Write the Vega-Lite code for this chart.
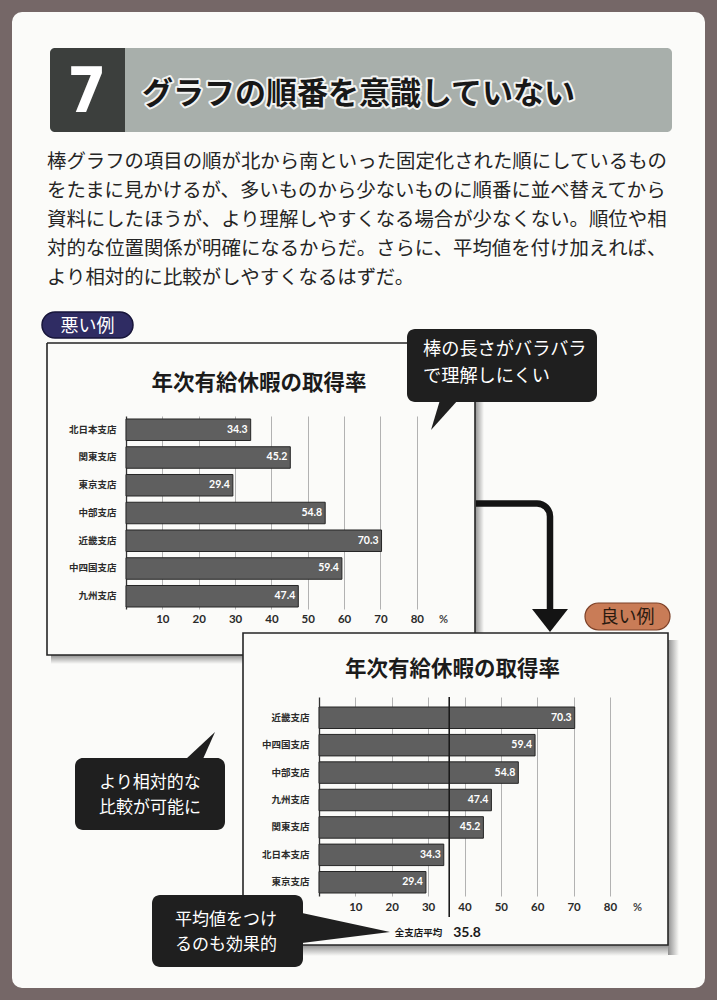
{
  "$schema": "https://vega.github.io/schema/vega-lite/v6.json",
  "width": 717,
  "height": 1000,
  "autosize": {"type": "none"},
  "padding": 0,
  "background": "#756767",
  "config": {
    "view": {"fill": "#fbfbf9", "stroke": "#756767", "strokeWidth": 24, "cornerRadius": 22},
    "font": "Noto Sans CJK JP",
    "text": {"font": "Noto Sans CJK JP"}
  },
  "datasets": {
    "branches": [
      {"branch": "北日本支店", "rate": 34.3},
      {"branch": "関東支店", "rate": 45.2},
      {"branch": "東京支店", "rate": 29.4},
      {"branch": "中部支店", "rate": 54.8},
      {"branch": "近畿支店", "rate": 70.3},
      {"branch": "中四国支店", "rate": 59.4},
      {"branch": "九州支店", "rate": 47.4}
    ],
    "average": [{"label": "全支店平均", "value": 35.8}]
  },
  "resolve": {"scale": {"x": "independent", "y": "independent"}, "axis": {"x": "independent", "y": "independent"}},
  "layer": [
    {"data": {"values": [{}]}, "mark": {"type": "rect", "fill": "#a8afab", "cornerRadius": 5},
     "encoding": {"x": {"value": 50}, "x2": {"value": 672}, "y": {"value": 48}, "y2": {"value": 132}}},
    {"data": {"values": [{}]}, "mark": {"type": "rect", "fill": "#3c3f3d", "cornerRadiusTopLeft": 5, "cornerRadiusBottomLeft": 5},
     "encoding": {"x": {"value": 50}, "x2": {"value": 125}, "y": {"value": 48}, "y2": {"value": 132}}},
    {"data": {"values": [{"num": "7"}]}, "mark": {"type": "text", "font": "Liberation Sans Narrow, DejaVu Sans Condensed, Roboto", "fontWeight": "bold", "fontSize": 62, "fill": "#ffffff", "align": "center", "baseline": "alphabetic"},
     "encoding": {"x": {"value": 87}, "y": {"value": 112}, "text": {"field": "num"}}},
    {"data": {"values": [{"title": "グラフの順番を意識していない"}]}, "mark": {"type": "text", "fontSize": 31, "fontWeight": "bold", "fill": "#ffffff", "stroke": "#ffffff", "strokeWidth": 4, "strokeJoin": "round", "align": "left", "baseline": "alphabetic", "opacity": 0.85},
     "encoding": {"x": {"value": 142}, "y": {"value": 104}, "text": {"field": "title"}}},
    {"data": {"values": [{"title": "グラフの順番を意識していない"}]}, "mark": {"type": "text", "fontSize": 31, "fontWeight": "bold", "fill": "#181818", "align": "left", "baseline": "alphabetic"},
     "encoding": {"x": {"value": 142}, "y": {"value": 104}, "text": {"field": "title"}}},
    {"data": {"values": [{"body": "棒グラフの項目の順が北から南といった固定化された順にしているもの\nをたまに見かけるが、多いものから少ないものに順番に並べ替えてから\n資料にしたほうが、より理解しやすくなる場合が少なくない。順位や相\n対的な位置関係が明確になるからだ。さらに、平均値を付け加えれば、\nより相対的に比較がしやすくなるはずだ。"}]},
     "mark": {"type": "text", "lineBreak": "\n", "lineHeight": 29, "fontSize": 19.4, "fill": "#252525", "align": "left", "baseline": "alphabetic"},
     "encoding": {"x": {"value": 47}, "y": {"value": 168}, "text": {"field": "body"}}},
    {"data": {"values": [{}]}, "mark": {"type": "rect", "fill": "#2f2c63", "stroke": "#17153a", "strokeWidth": 1.5, "cornerRadius": 13},
     "encoding": {"x": {"value": 42}, "x2": {"value": 133}, "y": {"value": 312}, "y2": {"value": 338}}},
    {"data": {"values": [{"tag": "悪い例"}]}, "mark": {"type": "text", "fontSize": 18, "fill": "#ffffff", "align": "center", "baseline": "alphabetic"},
     "encoding": {"x": {"value": 87.5}, "y": {"value": 332}, "text": {"field": "tag"}}},
    {"data": {"values": [{}]}, "mark": {"type": "rect", "fill": {"gradient": "linear", "x1": 0, "y1": 0, "x2": 1, "y2": 0, "stops": [{"offset": 0, "color": "#8f8f8f"}, {"offset": 1, "color": "#fbfbf9"}]}},
     "encoding": {"x": {"value": 475}, "x2": {"value": 484}, "y": {"value": 347}, "y2": {"value": 633}}},
    {"data": {"values": [{}]}, "mark": {"type": "rect", "fill": {"gradient": "linear", "x1": 0, "y1": 0, "x2": 0, "y2": 1, "stops": [{"offset": 0, "color": "#8f8f8f"}, {"offset": 1, "color": "#fbfbf9"}]}},
     "encoding": {"x": {"value": 51}, "x2": {"value": 243}, "y": {"value": 655}, "y2": {"value": 664}}},
    {"data": {"values": [{}]}, "mark": {"type": "point", "shape": "M0 0 H428 V290 M0 0 V312 H196", "size": 4, "filled": false, "fill": "transparent", "stroke": "#262626", "strokeWidth": 1.6, "opacity": 1},
     "encoding": {"x": {"value": 47}, "y": {"value": 343}}},
    {"data": {"values": [{"title": "年次有給休暇の取得率"}]}, "mark": {"type": "text", "fontSize": 21.5, "fontWeight": "bold", "fill": "#1b1b1b", "align": "center", "baseline": "alphabetic"},
     "encoding": {"x": {"value": 259}, "y": {"value": 390}, "text": {"field": "title"}}},
    {
      "data": {"name": "branches"},
      "layer": [
        {"mark": {"type": "bar", "fill": "#5f5f5f", "stroke": "#262626", "strokeWidth": 1},
         "encoding": {
           "y": {"field": "branch", "type": "nominal", "sort": null,
                 "scale": {"range": [416, 609], "paddingInner": 0.225, "paddingOuter": 0.09, "align": 0.6},
                 "axis": {"orient": "left", "offset": -126, "title": null, "domain": true, "domainColor": "#333333", "domainWidth": 1.3, "ticks": false, "tickSize": 0, "labelPadding": 10, "labelFont": "Noto Sans CJK JP", "labelFontWeight": "bold", "labelFontSize": 9.5, "labelColor": "#2b2b2b", "grid": false, "zindex": 0}},
           "x": {"field": "rate", "type": "quantitative",
                 "scale": {"domain": [0, 80], "range": [126, 416.8]},
                 "axis": {"orient": "top", "offset": -609, "values": [10, 20, 30, 40, 50, 60, 70, 80], "grid": true, "gridColor": "#a0a0a0", "gridWidth": 0.8, "domain": false, "ticks": false, "tickSize": 0, "labelPadding": -10, "labelBaseline": "middle", "labelFlush": false, "labelOverlap": false, "labelFont": "Lato", "labelFontWeight": "bold", "labelFontSize": 11.5, "labelColor": "#2a2a2a", "title": "%", "titleX": 443, "titleY": 10, "titleAngle": 0, "titleAlign": "center", "titleBaseline": "middle", "titleFont": "Lato", "titleFontSize": 11, "titleFontWeight": "bold", "titleColor": "#444444", "zindex": 0}}
         }},
        {"mark": {"type": "text", "align": "right", "dx": -3, "baseline": "middle", "fill": "#ffffff", "fontWeight": "bold", "fontSize": 10.5, "font": "Lato"},
         "encoding": {
           "y": {"field": "branch", "type": "nominal", "sort": null},
           "x": {"field": "rate", "type": "quantitative"},
           "text": {"field": "rate", "type": "quantitative", "format": ".1f"}
         }}
      ]
    },
    {"data": {"values": [{}]}, "mark": {"type": "rect", "fill": "#1f1f1f", "cornerRadius": 8},
     "encoding": {"x": {"value": 407}, "x2": {"value": 597}, "y": {"value": 329}, "y2": {"value": 402}}},
    {"data": {"values": [{}]}, "mark": {"type": "point", "shape": "M0 0 L18 0 L-9 30 Z", "size": 4, "filled": true, "fill": "#1f1f1f", "strokeWidth": 0, "opacity": 1},
     "encoding": {"x": {"value": 440}, "y": {"value": 400}}},
    {"data": {"values": [{"note": "棒の長さがバラバラ\nで理解しにくい"}]}, "mark": {"type": "text", "lineBreak": "\n", "lineHeight": 27, "fontSize": 18.2, "fill": "#ffffff", "align": "left", "baseline": "alphabetic"},
     "encoding": {"x": {"value": 423}, "y": {"value": 355}, "text": {"field": "note"}}},
    {"data": {"values": [{}]}, "mark": {"type": "point", "shape": "M0 0 H61 A13 13 0 0 1 74 13 V107", "size": 4, "filled": false, "fill": "transparent", "stroke": "#141414", "strokeWidth": 6.5, "opacity": 1},
     "encoding": {"x": {"value": 476}, "y": {"value": 503.5}}},
    {"data": {"values": [{}]}, "mark": {"type": "point", "shape": "M-18 -11 L18 -11 L0 12 Z", "size": 4, "filled": true, "fill": "#141414", "strokeWidth": 0, "opacity": 1},
     "encoding": {"x": {"value": 550}, "y": {"value": 620}}},
    {"data": {"values": [{}]}, "mark": {"type": "rect", "fill": {"gradient": "linear", "x1": 0, "y1": 0, "x2": 1, "y2": 0, "stops": [{"offset": 0, "color": "#8f8f8f"}, {"offset": 1, "color": "#fbfbf9"}]}},
     "encoding": {"x": {"value": 668}, "x2": {"value": 679}, "y": {"value": 640}, "y2": {"value": 955}}},
    {"data": {"values": [{}]}, "mark": {"type": "rect", "fill": {"gradient": "linear", "x1": 0, "y1": 0, "x2": 0, "y2": 1, "stops": [{"offset": 0, "color": "#8f8f8f"}, {"offset": 1, "color": "#fbfbf9"}]}},
     "encoding": {"x": {"value": 250}, "x2": {"value": 668}, "y": {"value": 945}, "y2": {"value": 956}}},
    {"data": {"values": [{}]}, "mark": {"type": "rect", "filled": false, "fill": "transparent", "stroke": "#262626", "strokeWidth": 1.6},
     "encoding": {"x": {"value": 243}, "x2": {"value": 668}, "y": {"value": 633}, "y2": {"value": 945}}},
    {"data": {"values": [{"title": "年次有給休暇の取得率"}]}, "mark": {"type": "text", "fontSize": 21.5, "fontWeight": "bold", "fill": "#1b1b1b", "align": "center", "baseline": "alphabetic"},
     "encoding": {"x": {"value": 452.5}, "y": {"value": 676}, "text": {"field": "title"}}},
    {
      "data": {"name": "branches"},
      "layer": [
        {"mark": {"type": "bar", "fill": "#5f5f5f", "stroke": "#262626", "strokeWidth": 1},
         "encoding": {
           "y": {"field": "branch", "type": "nominal", "sort": "-x",
                 "scale": {"range": [697, 896], "paddingInner": 0.216, "paddingOuter": 0.237, "align": 0.77},
                 "axis": {"orient": "left", "offset": -319, "title": null, "domain": true, "domainColor": "#333333", "domainWidth": 1.3, "ticks": false, "tickSize": 0, "labelPadding": 10, "labelFont": "Noto Sans CJK JP", "labelFontWeight": "bold", "labelFontSize": 9.5, "labelColor": "#2b2b2b", "grid": false, "zindex": 0}},
           "x": {"field": "rate", "type": "quantitative",
                 "scale": {"domain": [0, 80], "range": [319, 610]},
                 "axis": {"orient": "top", "offset": -896, "values": [10, 20, 30, 40, 50, 60, 70, 80], "grid": true, "gridColor": "#a0a0a0", "gridWidth": 0.8, "domain": false, "ticks": false, "tickSize": 0, "labelPadding": -11, "labelBaseline": "middle", "labelFlush": false, "labelOverlap": false, "labelFont": "Lato", "labelFontWeight": "bold", "labelFontSize": 11.5, "labelColor": "#2a2a2a", "title": "%", "titleX": 637, "titleY": 11, "titleAngle": 0, "titleAlign": "center", "titleBaseline": "middle", "titleFont": "Lato", "titleFontSize": 11, "titleFontWeight": "bold", "titleColor": "#444444", "zindex": 0}}
         }},
        {"mark": {"type": "text", "align": "right", "dx": -3, "baseline": "middle", "fill": "#ffffff", "fontWeight": "bold", "fontSize": 10.5, "font": "Lato"},
         "encoding": {
           "y": {"field": "branch", "type": "nominal", "sort": "-x"},
           "x": {"field": "rate", "type": "quantitative"},
           "text": {"field": "rate", "type": "quantitative", "format": ".1f"}
         }},
        {"data": {"name": "average"}, "mark": {"type": "rule", "stroke": "#1a1a1a", "strokeWidth": 1.6},
         "encoding": {"x": {"field": "value", "type": "quantitative"}, "y": {"value": 697}, "y2": {"value": 917}}},
        {"data": {"name": "average"}, "mark": {"type": "text", "align": "right", "dx": -7, "fontSize": 9.5, "fontWeight": "bold", "fill": "#1a1a1a", "baseline": "alphabetic"},
         "encoding": {"x": {"field": "value", "type": "quantitative"}, "y": {"value": 935.5}, "text": {"field": "label"}}},
        {"data": {"name": "average"}, "mark": {"type": "text", "align": "left", "dx": 4, "fontSize": 14, "fontWeight": "bold", "font": "Lato", "fill": "#1a1a1a", "baseline": "alphabetic"},
         "encoding": {"x": {"field": "value", "type": "quantitative"}, "y": {"value": 937}, "text": {"field": "value", "type": "quantitative", "format": ".1f"}}}
      ]
    },
    {"data": {"values": [{}]}, "mark": {"type": "rect", "fill": "#1f1f1f", "cornerRadius": 8},
     "encoding": {"x": {"value": 75}, "x2": {"value": 225}, "y": {"value": 758}, "y2": {"value": 830}}},
    {"data": {"values": [{}]}, "mark": {"type": "point", "shape": "M0 0 L29 -27 L17 0 Z", "size": 4, "filled": true, "fill": "#1f1f1f", "strokeWidth": 0, "opacity": 1},
     "encoding": {"x": {"value": 186}, "y": {"value": 759}}},
    {"data": {"values": [{"note": "より相対的な\n比較が可能に"}]}, "mark": {"type": "text", "lineBreak": "\n", "lineHeight": 25, "fontSize": 17, "fill": "#ffffff", "align": "center", "baseline": "alphabetic"},
     "encoding": {"x": {"value": 150}, "y": {"value": 788}, "text": {"field": "note"}}},
    {"data": {"values": [{}]}, "mark": {"type": "rect", "fill": "#1f1f1f", "cornerRadius": 8},
     "encoding": {"x": {"value": 152}, "x2": {"value": 303}, "y": {"value": 895}, "y2": {"value": 967}}},
    {"data": {"values": [{}]}, "mark": {"type": "point", "shape": "M0 0 L88 19 L0 30 Z", "size": 4, "filled": true, "fill": "#1f1f1f", "strokeWidth": 0, "opacity": 1},
     "encoding": {"x": {"value": 302}, "y": {"value": 913}}},
    {"data": {"values": [{"note": "平均値をつけ\nるのも効果的"}]}, "mark": {"type": "text", "lineBreak": "\n", "lineHeight": 25, "fontSize": 17, "fill": "#ffffff", "align": "center", "baseline": "alphabetic"},
     "encoding": {"x": {"value": 226}, "y": {"value": 925}, "text": {"field": "note"}}},
    {"data": {"values": [{}]}, "mark": {"type": "rect", "fill": "#c97c57", "stroke": "#7d4128", "strokeWidth": 1.2, "cornerRadius": 13.5},
     "encoding": {"x": {"value": 585}, "x2": {"value": 670}, "y": {"value": 603}, "y2": {"value": 630}}},
    {"data": {"values": [{"tag": "良い例"}]}, "mark": {"type": "text", "fontSize": 18, "fill": "#2a1a10", "align": "center", "baseline": "alphabetic"},
     "encoding": {"x": {"value": 627.5}, "y": {"value": 623}, "text": {"field": "tag"}}}
  ]
}
